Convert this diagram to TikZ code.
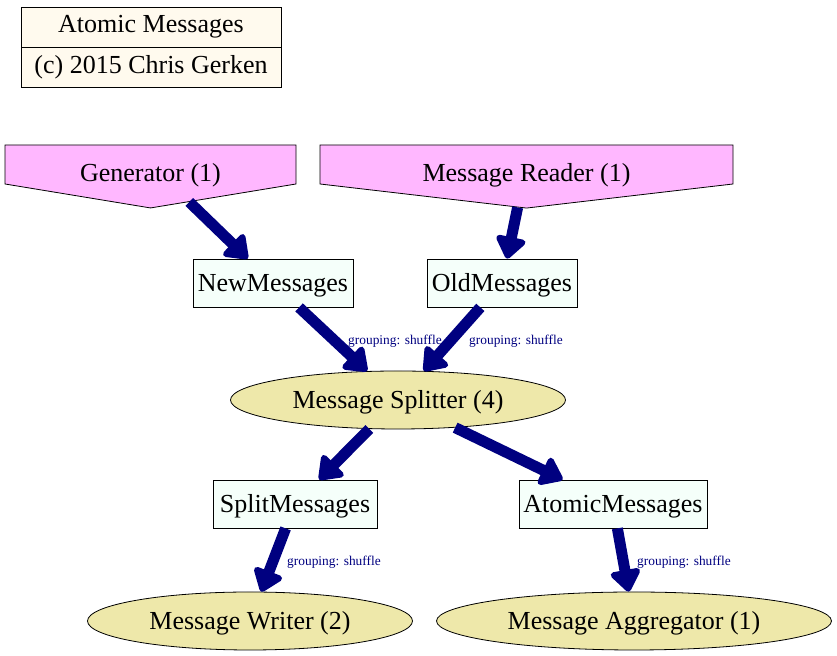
\documentclass[tikz,border=0pt]{standalone}
\usepackage{fontspec}
\setmainfont{Liberation Serif}
\usepackage{tikz}
\usetikzlibrary{arrows.meta,shapes.geometric,shapes.symbols}

\definecolor{spoutpink}{RGB}{255,183,255}
\definecolor{boltkhaki}{RGB}{238,232,170}
\definecolor{streammint}{RGB}{245,255,250}
\definecolor{notecream}{RGB}{255,250,238}
\definecolor{flownavy}{RGB}{0,0,128}

\tikzset{
  every node/.style={font=\fontsize{13}{15}\selectfont},
  note/.style={draw,fill=notecream,minimum width=130pt,minimum height=20pt,inner sep=0pt},
  spout/.style={draw,fill=spoutpink,signal,signal to=south,inner sep=0pt,text height=18.5pt,text depth=1pt},
  stream/.style={draw,fill=streammint,minimum height=24pt,inner sep=0pt,text height=10.8pt,text depth=2pt},
  bolt/.style={draw,fill=boltkhaki,ellipse,minimum height=29pt,inner sep=0pt,text height=10.8pt,text depth=2pt},
  flow/.style={draw=flownavy,line width=5.5pt,-{Triangle[length=12pt,width=17pt,round]}},
  grouping/.style={text=flownavy,font=\fontsize{6.7}{8}\selectfont}
}

\begin{document}
\begin{tikzpicture}[x=0.5pt,y=-0.5pt,thin]
  \useasboundingbox (0,0) rectangle (837,656);
  % legend
  \node[note] (title) at (151,27) {Atomic Messages};
  \node[note] (credit) at (151,67) {(c) 2015 Chris Gerken};
  % spouts
  \node[spout,signal pointer angle=161.3,minimum width=145.5pt] (gen) at (150.5,164.5) {Generator (1)};
  \node[spout,signal pointer angle=166.7,minimum width=206.5pt] (reader) at (526.5,164.5) {Message Reader (1)};
  % streams
  \node[stream,minimum width=80pt] (newmsgs) at (273,283) {NewMessages};
  \node[stream,minimum width=75pt] (oldmsgs) at (502,283) {OldMessages};
  \node[stream,minimum width=82pt] (splitmsgs) at (295,504) {SplitMessages};
  \node[stream,minimum width=94pt] (atomicmsgs) at (613,504) {AtomicMessages};
  % bolts
  \node[bolt,minimum width=167.5pt] (splitter) at (398,400) {Message Splitter (4)};
  \node[bolt,minimum width=162.5pt] (writer) at (250,621) {Message Writer (2)};
  \node[bolt,minimum width=197.5pt] (aggregator) at (634,621) {Message Aggregator (1)};
  % edges
  \draw[flow] (gen) -- (newmsgs);
  \draw[flow] (reader) -- (oldmsgs);
  \draw[flow] (newmsgs) -- (splitter);
  \draw[flow] (oldmsgs) -- (splitter);
  \draw[flow] (splitter) -- (splitmsgs);
  \draw[flow] (splitter) -- (atomicmsgs);
  \draw[flow] (splitmsgs) -- (writer);
  \draw[flow] (atomicmsgs) -- (aggregator);
  \node[grouping] (g1) at (395,341) {grouping: shuffle};
  \node[grouping] (g2) at (516,341) {grouping: shuffle};
  \node[grouping] (g3) at (334,562) {grouping: shuffle};
  \node[grouping] (g4) at (684,562) {grouping: shuffle};
\end{tikzpicture}
\end{document}
